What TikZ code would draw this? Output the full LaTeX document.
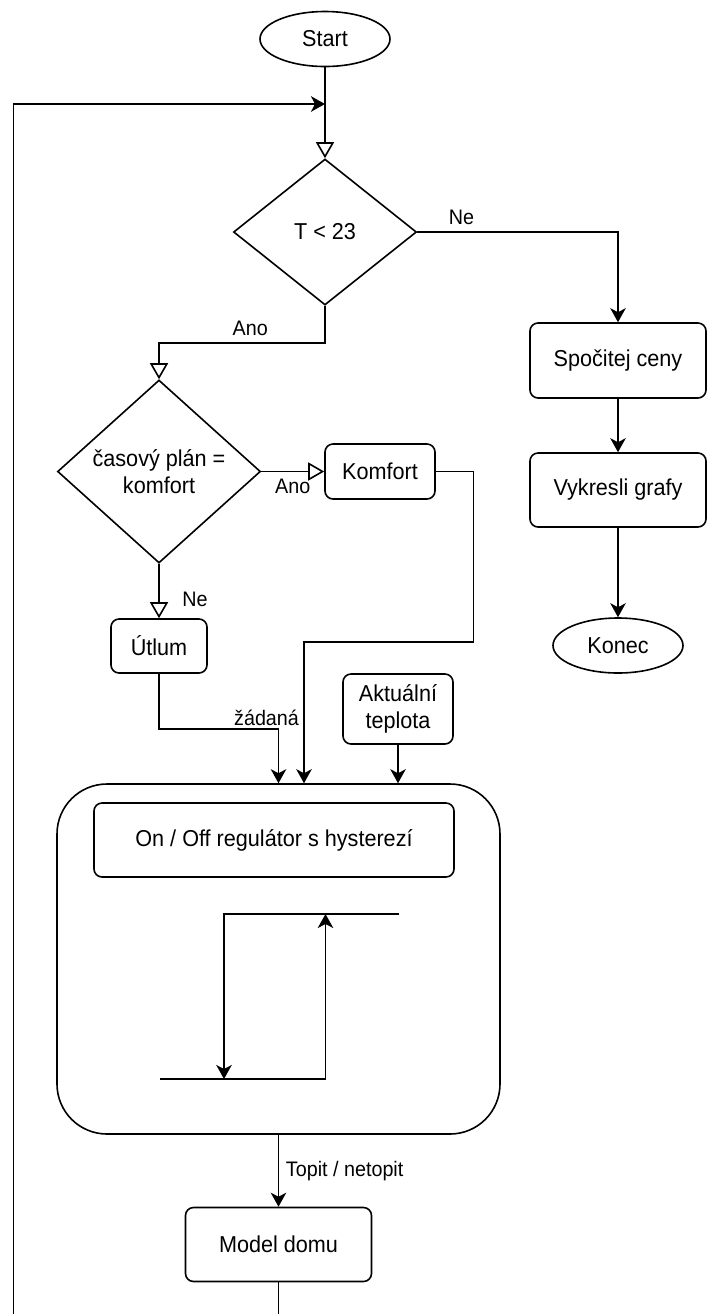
\documentclass[tikz,border=0pt]{standalone}
\usepackage{fontspec}
\setmainfont{Liberation Sans}[FakeStretch=0.94]
\usetikzlibrary{shapes.geometric, arrows.meta, positioning}
\newcommand{\uzelfont}{\fontsize{11.5}{13.5}\selectfont}
\newcommand{\popisfont}{\fontsize{10.5}{12.5}\selectfont}
\tikzstyle{startstop} = [ellipse, minimum width=65pt, minimum height=27.5pt, inner sep=0pt, align=center, draw=black, font=\uzelfont]
\tikzstyle{process} = [rectangle, rounded corners=4pt, inner sep=0pt, align=center, draw=black, font=\uzelfont]
\tikzstyle{decision} = [diamond, aspect=1.1, inner sep=0pt, align=center, draw=black, font=\uzelfont]
\tikzstyle{container} = [rectangle, rounded corners=25pt, minimum width=221.5pt, minimum height=175pt, draw=black]
\tikzstyle{popis} = [font=\popisfont]
\tikzstyle{arrow} = [thick, -{Stealth[length=7pt, width=7.75pt, inset=2pt]}]
\tikzstyle{openarrow} = [thick, -{Triangle[open, length=8pt, width=9pt]}]
\begin{document}
\begin{tikzpicture}[node distance=60pt, x=0.5pt, y=-0.5pt, thick]

    \useasboundingbox (0,0) rectangle (707,1314);
    \clip (0,0) rectangle (707,1314);

    % Uzly
    \node (start) [startstop] at (325,39) {Start};
    \node (dec1) [decision, below of=start, yshift=-36.5pt, minimum width=91.5pt, minimum height=73pt] {T < 23};
    \node (cena) [process, right of=dec1, xshift=86.5pt, yshift=-64.25pt, minimum width=88pt, minimum height=37.5pt] {Spočitej ceny};
    \node (grafy) [process, below of=cena, yshift=-4.75pt, minimum width=88pt, minimum height=37pt] {Vykresli grafy};
    \node (konec) [startstop, below of=grafy, yshift=-17.75pt] {Konec};
    \node (dec2) [decision, below of=dec1, xshift=-83pt, yshift=-59.75pt, minimum width=101.5pt, minimum height=91.5pt] {časový plán =\\ komfort};
    \node (komfort) [process, right of=dec2, xshift=50.5pt, minimum width=55pt, minimum height=27.5pt] {Komfort};
    \node (utlum) [process, below of=dec2, yshift=-27.25pt, minimum width=48pt, minimum height=27pt] {Útlum};
    \node (aktual) [process, below of=komfort, xshift=9pt, yshift=-58.75pt, minimum width=55pt, minimum height=35pt] {Aktuální\\ teplota};
    \node (regbox) [container, below of=utlum, xshift=59.75pt, yshift=-96.5pt] {};
    \node (reg) [process, above of=regbox, xshift=-2.25pt, yshift=-0.5pt, minimum width=180pt, minimum height=37pt] {On / Off regulátor s hysterezí};
    \node (model) [process, below of=regbox, yshift=-82.75pt, minimum width=93pt, minimum height=37pt] {Model domu};
    \coordinate (navrat) at (13.5,104);

    % Hystereze
    \draw [arrow] (399,914) -- (224,914) -- (224,1079);
    \draw [arrow] (160,1079) -- (325.5,1079) -- (325.5,914);

    % Šipky
    \draw [openarrow] (start) -- (dec1);
    \draw [arrow] (dec1.east) -| node[popis, pos=0.11, above] {Ne} (cena.north);
    \draw [openarrow] (dec1.south) -- ++(0,-18.5pt) -| node[popis, pos=0.225, above] {Ano} (dec2.north);
    \draw [openarrow] (dec2.east) -- node[popis, below] {Ano} (komfort.west);
    \draw [openarrow] (dec2.south) -- node[popis, pos=0.66, right=8pt] {Ne} (utlum.north);
    \draw [arrow] (cena) -- (grafy);
    \draw [arrow] (grafy) -- (konec);
    \draw [arrow] (komfort.east) -- ++(18.75pt,0) -- ++(0,-85.25pt) -| ([xshift=12.75pt]regbox.north);
    \draw [arrow] (utlum.south) -- ++(0,-27.5pt) -| node[popis, pos=0.45, above, inner sep=1pt] {žádaná} (regbox.north);
    \draw [arrow] (aktual.south) -- (aktual.south |- regbox.north);
    \draw [arrow] (regbox.south) -- node[popis, right] {Topit / netopit} (model.north);
    \draw [arrow] (model.south) -- ++(0,-60pt) -| (navrat) -- (navrat -| start);

\end{tikzpicture}
\end{document}
